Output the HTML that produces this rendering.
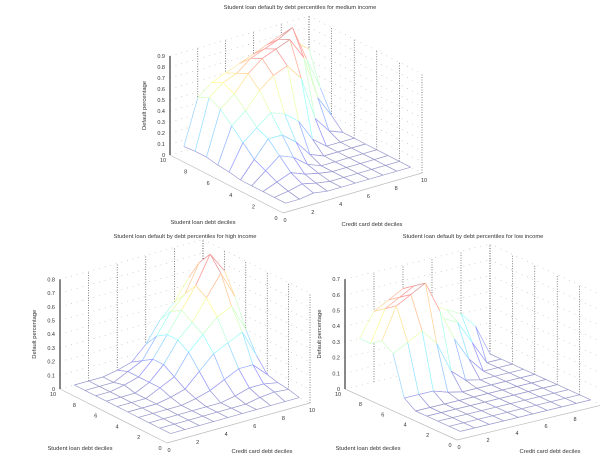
<!DOCTYPE html>
<html><head><meta charset="utf-8"><style>
body{margin:0;background:#fff;width:600px;height:472px;overflow:hidden}
svg{display:block;font-family:"Liberation Sans",sans-serif}
text{fill:#333}
</style></head><body>
<svg id="chart" width="600" height="472" viewBox="0 0 600 472"></svg>
<script>
// ---- data ----
const xTicks=[0,2,4,6,8,10];
const yTicks=[0,2,4,6,8,10];
const deciles=[1,2,3,4,5,6,7,8,9,10];
const zTicksMedium=[0,0.1,0.2,0.3,0.4,0.5,0.6,0.7,0.8,0.9];
const zTicksHigh=[0,0.1,0.2,0.3,0.4,0.5,0.6,0.7,0.8];
const zTicksLow=[0,0.1,0.2,0.3,0.4,0.5,0.6,0.7];
const zMedium=[
[0,0,0.02,0,0,0,0,0,0,0],
[0,0.02,0.05,0.02,0,0,0,0,0,0],
[0,0.05,0.1,0.05,0.02,0,0,0,0,0],
[0,0.1,0.2,0.15,0.05,0,0,0,0,0],
[0,0.15,0.3,0.3,0.2,0.05,0,0,0,0],
[0.02,0.25,0.35,0.45,0.4,0.3,0.1,0,0,0],
[0.03,0.35,0.45,0.6,0.7,0.75,0.6,0.2,0.05,0],
[0.05,0.45,0.55,0.7,0.8,0.85,0.9,0.7,0.3,0.1],
[0.05,0.5,0.6,0.65,0.75,0.8,0.85,0.92,0.6,0.3],
[0.04,0.45,0.55,0.6,0.65,0.7,0.75,0.8,0.7,0.6]];
const zHigh=[
[0,0,0,0,0,0,0,0,0,0],
[0,0,0,0,0,0,0,0.02,0.03,0.02],
[0,0,0,0,0,0,0.02,0.05,0.05,0.03],
[0,0,0,0,0.02,0.05,0.1,0.15,0.15,0.05],
[0,0,0,0.02,0.05,0.15,0.25,0.3,0.35,0.15],
[0,0,0,0.05,0.1,0.25,0.35,0.45,0.5,0.3],
[0,0,0,0.05,0.15,0.3,0.4,0.55,0.7,0.5],
[0,0,0.02,0.05,0.15,0.3,0.45,0.6,0.8,0.65],
[0,0,0,0.05,0.1,0.25,0.4,0.5,0.7,0.55],
[0,0,0,0.02,0.05,0.15,0.3,0.4,0.55,0.4]];
const zLow=[
[0,0,0,0,0,0,0,0,0,0],
[0,0,0,0,0,0,0,0,0,0],
[0,0,0,0,0,0,0,0,0,0],
[0,0,0,0,0,0,0,0,0,0],
[0,0,0,0,0,0,0,0,0,0],
[0.05,0.05,0.05,0.02,0,0,0,0,0,0],
[0.3,0.35,0.4,0.3,0.1,0.02,0,0,0,0],
[0.35,0.55,0.6,0.65,0.45,0.25,0.1,0,0,0],
[0.3,0.5,0.55,0.6,0.5,0.35,0.3,0.15,0,0],
[0.3,0.45,0.5,0.55,0.45,0.4,0.35,0.3,0.2,0]];

const svg=document.getElementById('chart');
const NS='http://www.w3.org/2000/svg';
function el(tag,attrs,parent){const e=document.createElementNS(NS,tag);for(const k in attrs)e.setAttribute(k,attrs[k]);(parent||svg).appendChild(e);return e;}
function jet(t){t=Math.max(0,Math.min(1,t));
 const r=Math.max(0,Math.min(1,1.5-Math.abs(4*t-3))),g=Math.max(0,Math.min(1,1.5-Math.abs(4*t-2))),b=Math.max(0,Math.min(1,1.5-Math.abs(4*t-1)));
 const m=c=>Math.round(255*(0.4*c+0.6));return `rgb(${m(r)},${m(g)},${m(b)})`;}

function plot(cfg){
 const g=el('g',{});
 
 
 const P=(x,y,z)=>[cfg.ox+x*cfg.ux[0]+y*cfg.uy[0], cfg.oy+x*cfg.ux[1]+y*cfg.uy[1]-z*cfg.zs];
 const zTop=cfg.zTicks[cfg.zTicks.length-1];
 const vdot={stroke:'#333','stroke-width':0.6,'stroke-dasharray':'1,1.5',fill:'none'};
 const hdot={stroke:'#aaa','stroke-width':0.6,'stroke-dasharray':'0.8,5',fill:'none'};
 function line(a,b,attrs,name){const l=el('line',Object.assign({x1:a[0],y1:a[1],x2:b[0],y2:b[1]},attrs),g);return l;}
 xTicks.forEach(x=>line(P(x,10,0),P(x,10,zTop),vdot,'wall-grid'));
 yTicks.forEach(y=>line(P(10,y,0),P(10,y,zTop),vdot,'wall-grid'));
 cfg.zTicks.forEach(z=>{line(P(0,10,z),P(10,10,z),hdot,'wall-grid');line(P(10,10,z),P(10,0,z),hdot,'wall-grid');});
 line(P(0,0,0),P(10,0,0),{stroke:'#bbb','stroke-width':0.7},'x-axis-line');
 line(P(0,0,0),P(0,10,0),{stroke:'#bbb','stroke-width':0.7},'y-axis-line');
 line(P(0,10,0),P(0,10,zTop),{stroke:'#111','stroke-width':1},'z-axis-line');
 const Z=cfg.z;const cells=[];
 for(let j=0;j<deciles.length-1;j++)for(let i=0;i<deciles.length-1;i++)cells.push([i,j]);
 cells.sort((a,b)=>(b[0]+b[1])-(a[0]+a[1]));
 cells.forEach(([i,j])=>{
  const pts=[[i,j],[i+1,j],[i+1,j+1],[i,j+1]].map(([a,b])=>P(deciles[a],deciles[b],Z[b][a]));
  const poly=el('polygon',{points:pts.map(p=>p.join(',')).join(' '),fill:'#fff',stroke:'none'},g);
  
  
  const corners=[[i,j],[i+1,j],[i+1,j+1],[i,j+1]];
  for(let k=0;k<4;k++){const a=corners[k],b=corners[(k+1)%4];
   const zz=(Z[a[1]][a[0]]+Z[b[1]][b[0]])/2;
   line(pts[k],pts[(k+1)%4],{stroke:jet(zz/cfg.cmax),'stroke-width':0.7},'mesh-edge');}
 });
 cfg.zTicks.forEach(z=>{const p=P(0,10,z);const t=el('text',{x:p[0]-5,y:p[1]+2,'font-size':5.5,'text-anchor':'end'},g);t.textContent=String(z);});
 yTicks.forEach(y=>{const p=P(0,y,0);const t=el('text',{x:p[0]-7,y:p[1]+7,'font-size':5.5,'text-anchor':'middle'},g);t.textContent=String(y);});
 xTicks.forEach(x=>{const p=P(x,0,0);const t=el('text',{x:p[0]+2,y:p[1]+9,'font-size':5.5,'text-anchor':'middle'},g);t.textContent=String(x);});
 const T=el('text',{x:cfg.title[0],y:cfg.title[1],'font-size':5.8,'text-anchor':'middle'},g);T.textContent=cfg.titleText;
 const zp=P(0,10,zTop/2);
 const ZL=el('text',{x:zp[0]-24,y:zp[1],'font-size':5.8,'text-anchor':'middle',transform:`rotate(-90 ${zp[0]-24} ${zp[1]})`},g);ZL.textContent='Default percentage';
 const YL=el('text',{x:cfg.yl[0],y:cfg.yl[1],'font-size':5.8,'text-anchor':'middle'},g);YL.textContent='Student loan debt deciles';
 const XL=el('text',{x:cfg.xl[0],y:cfg.xl[1],'font-size':5.8,'text-anchor':'middle'},g);XL.textContent='Credit card debt deciles';
}

plot({name:'medium-income-chart',z:zMedium,zTicks:zTicksMedium,cmax:0.92,ox:283,oy:213,ux:[13.9,-4.0],uy:[-11.3,-5.8],zs:110,
 title:[300,9],titleText:'Student loan default by debt percentiles for medium income',yl:[203,224],xl:[372,226]});
plot({name:'high-income-chart',z:zHigh,zTicks:zTicksHigh,cmax:0.8,ox:167,oy:443,ux:[14.3,-4.0],uy:[-10.7,-5.4],zs:137,
 title:[185,238],titleText:'Student loan default by debt percentiles for high income',yl:[80,450],xl:[262,453]});
plot({name:'low-income-chart',z:zLow,zTicks:zTicksLow,cmax:0.65,ox:457,oy:440,ux:[14.5,-3.5],uy:[-11.2,-5.1],zs:157,
 title:[473,238],titleText:'Student loan default by debt percentiles for low income',yl:[368,450],xl:[550,453]});
</script>
</body></html>
